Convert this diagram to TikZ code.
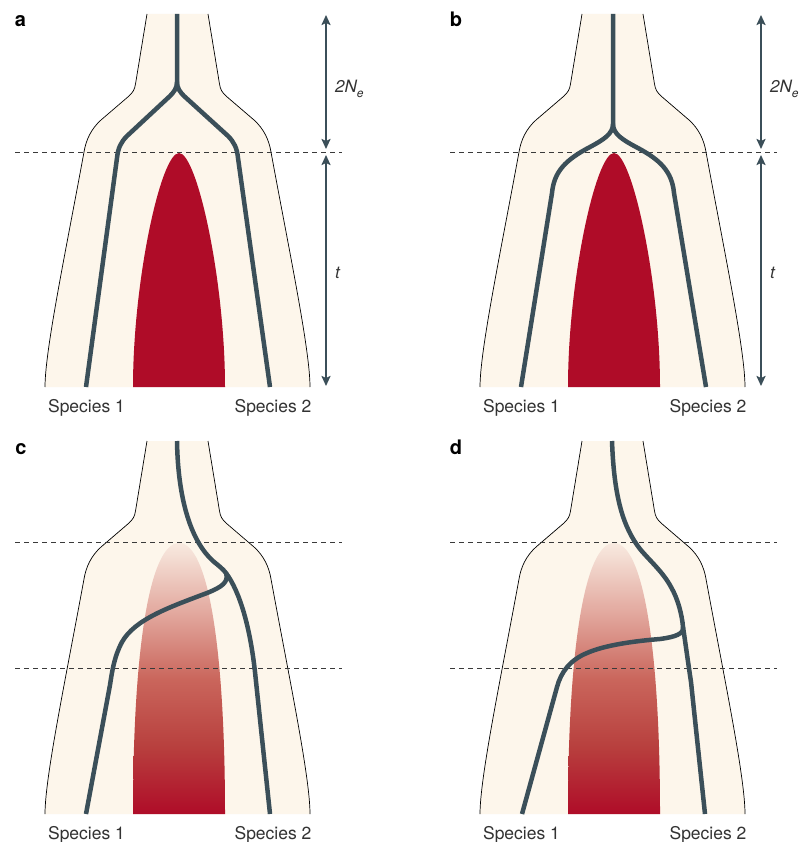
\documentclass[tikz,border=0pt]{standalone}
\usepackage{fontspec}
\setmainfont{TeX Gyre Heros}
\usetikzlibrary{arrows.meta}
\definecolor{cream}{HTML}{FDF6EB}
\definecolor{redc}{HTML}{AF0C28}
\definecolor{redq}{HTML}{B8403E}
\definecolor{redmid}{HTML}{CA665C}
\definecolor{redup}{HTML}{E3AAA0}
\definecolor{redtop}{HTML}{F8EAE0}
\definecolor{slate}{HTML}{3B4F59}
\definecolor{dashc}{HTML}{3A3A3A}
\definecolor{txt}{HTML}{333333}
\pgfdeclareverticalshading{ilsshade}{100bp}{color(0bp)=(redc); color(25bp)=(redc); color(37.5bp)=(redq); color(50bp)=(redmid); color(62.5bp)=(redup); color(75bp)=(redtop); color(100bp)=(redtop)}
\tikzset{
  outl/.style={draw=black,line width=0.7pt},
  gene/.style={draw=slate,line width=4.5pt,line cap=butt,line join=round},
  dashln/.style={draw=dashc,line width=0.9pt,dash pattern=on 5pt off 4pt},
  dimarrow/.style={draw=slate,line width=2pt,{Stealth[length=10pt,width=9pt,inset=2pt]}-{Stealth[length=10pt,width=9pt,inset=2pt]}},
  spec/.style={font=\fontsize{17.5}{20}\selectfont,text=txt,anchor=base,inner sep=0pt},
  plab/.style={font=\fontsize{20}{22}\selectfont\bfseries,text=black,anchor=base,inner sep=0pt},
  dimlab/.style={font=\fontsize{17}{20}\selectfont\itshape,text=txt,anchor=base west,inner sep=0pt}
}
\newcommand\panelshape{%
  \fill[cream] (147,14) -- (135.5,84) .. controls (134.5,90) and (133,92) .. (129,96) -- (101,120)
     .. controls (91,129) and (86,140) .. (84,152) .. controls (66,250) and (45,350) .. (45,387)
     -- (310,387) .. controls (310,350) and (289,250) .. (271,152) .. controls (269,140) and (264,129) .. (254,120)
     -- (226,96) .. controls (222,92) and (220.5,90) .. (219.5,84) -- (208,14) -- cycle;
  \draw[outl] (147,14) -- (135.5,84) .. controls (134.5,90) and (133,92) .. (129,96) -- (101,120)
     .. controls (91,129) and (86,140) .. (84,152) .. controls (66,250) and (45,350) .. (45,387);
  \draw[outl] (208,14) -- (219.5,84) .. controls (220.5,90) and (222,92) .. (226,96) -- (254,120)
     .. controls (264,129) and (269,140) .. (271,152) .. controls (289,250) and (310,350) .. (310,387);
}
\newcommand\redsolid{%
  \fill[redc] (133,387) .. controls (133,280) and (161,153) .. (179,153) .. controls (197,153) and (225,280) .. (225,387) -- cycle;
}
\newcommand\redshade{%
  \shade[shading=ilsshade] (133,387) .. controls (133,220) and (150,116) .. (179,116) .. controls (208,116) and (225,220) .. (225,387) -- cycle;
}
\begin{document}
\begin{tikzpicture}[x=1pt,y=-1pt]
\useasboundingbox (0,0) rectangle (800,842);
\fill[white] (0,0) rectangle (800,842);

% ---------- panel a ----------
\begin{scope}
  \panelshape
  \redsolid
  \coordinate (ada) at (15,152); \coordinate (adb) at (342,152);
  \draw[dashln] (ada) -- (adb);
  \draw[gene] (177,14) -- (177,82) .. controls (177,88) and (174,92) .. (170,96) -- (127,136)
      .. controls (121,142) and (118,148) .. (117,158) -- (86,387);
  \draw[gene] (177,82) .. controls (177,88) and (180,92) .. (184,96) -- (228,136)
      .. controls (234,142) and (237,148) .. (238,158) -- (270,387);
  \coordinate (aat) at (326,15); \coordinate (aam) at (326,149);
  \coordinate (abm) at (326,155); \coordinate (abb) at (326,386);
  \draw[dimarrow] (aat) -- (aam);
  \draw[dimarrow] (abm) -- (abb);
  \node[dimlab] (ane) at (335,93) {2N\raisebox{-0.28em}{\fontsize{12}{14}\selectfont e}};
  \node[dimlab] (at) at (335,278) {t};
  \node[spec] (as1) at (86.5,412) {Species 1};
  \node[spec] (as2) at (273,412) {Species 2};
  \node[plab] (alab) at (20.5,27) {a};
\end{scope}

% ---------- panel b ----------
\begin{scope}[shift={(435,0)}]
  \panelshape
  \redsolid
  \coordinate (bda) at (15,152); \coordinate (bdb) at (342,152);
  \draw[dashln] (bda) -- (bdb);
  \draw[gene] (178,14) -- (178,124) .. controls (178,134) and (168,140) .. (155,147)
      .. controls (130,160) and (119,172) .. (117,193) -- (86,387);
  \draw[gene] (178,124) .. controls (178,134) and (188,140) .. (201,147)
      .. controls (226,160) and (237,172) .. (239,193) -- (271,387);
  \coordinate (bat) at (326,15); \coordinate (bam) at (326,149);
  \coordinate (bbm) at (326,155); \coordinate (bbb) at (326,386);
  \draw[dimarrow] (bat) -- (bam);
  \draw[dimarrow] (bbm) -- (bbb);
  \node[dimlab] (bne) at (335,93) {2N\raisebox{-0.28em}{\fontsize{12}{14}\selectfont e}};
  \node[dimlab] (bt) at (335,278) {t};
  \node[spec] (bs1) at (86.5,412) {Species 1};
  \node[spec] (bs2) at (273,412) {Species 2};
  \node[plab] (blab) at (21,27) {b};
\end{scope}

% ---------- panel c ----------
\begin{scope}[shift={(0,427)}]
  \panelshape
  \redshade
  \coordinate (cda) at (15,115); \coordinate (cdb) at (342,115);
  \coordinate (cdc) at (15,241); \coordinate (cdd) at (342,241);
  \draw[dashln] (cda) -- (cdb);
  \draw[dashln] (cdc) -- (cdd);
  \draw[gene] (177,14) .. controls (178,75) and (192,115) .. (213,134)
      .. controls (219,139) and (223,142) .. (226,146)
      .. controls (229,155) and (222,160) .. (207,166)
      .. controls (170,180) and (135,192) .. (122,215)
      .. controls (114,230) and (112,245) .. (110,258) -- (86,387);
  \draw[gene] (226,146) .. controls (240,165) and (250,200) .. (255,245) -- (270,387);
  \node[spec] (cs1) at (86.5,412) {Species 1};
  \node[spec] (cs2) at (273,412) {Species 2};
  \node[plab] (clab) at (21,27) {c};
\end{scope}

% ---------- panel d ----------
\begin{scope}[shift={(435,427)}]
  \panelshape
  \redshade
  \coordinate (dda) at (15,115); \coordinate (ddb) at (342,115);
  \coordinate (ddc) at (15,241); \coordinate (ddd) at (342,241);
  \draw[dashln] (dda) -- (ddb);
  \draw[dashln] (ddc) -- (ddd);
  \draw[gene] (177,14) .. controls (179,70) and (188,100) .. (205,122)
      .. controls (215,134) and (228,145) .. (236,160)
      .. controls (243,172) and (247,188) .. (248,200)
      .. controls (249,207) and (240,210) .. (225,212)
      .. controls (200,214) and (170,218) .. (152,226)
      .. controls (135,233) and (126,245) .. (122,260) -- (87,387);
  \draw[gene] (248,200) .. controls (251,220) and (253,235) .. (256,255) -- (270,387);
  \node[spec] (ds1) at (86.5,412) {Species 1};
  \node[spec] (ds2) at (273,412) {Species 2};
  \node[plab] (dlab) at (21,27) {d};
\end{scope}
\end{tikzpicture}
\end{document}
